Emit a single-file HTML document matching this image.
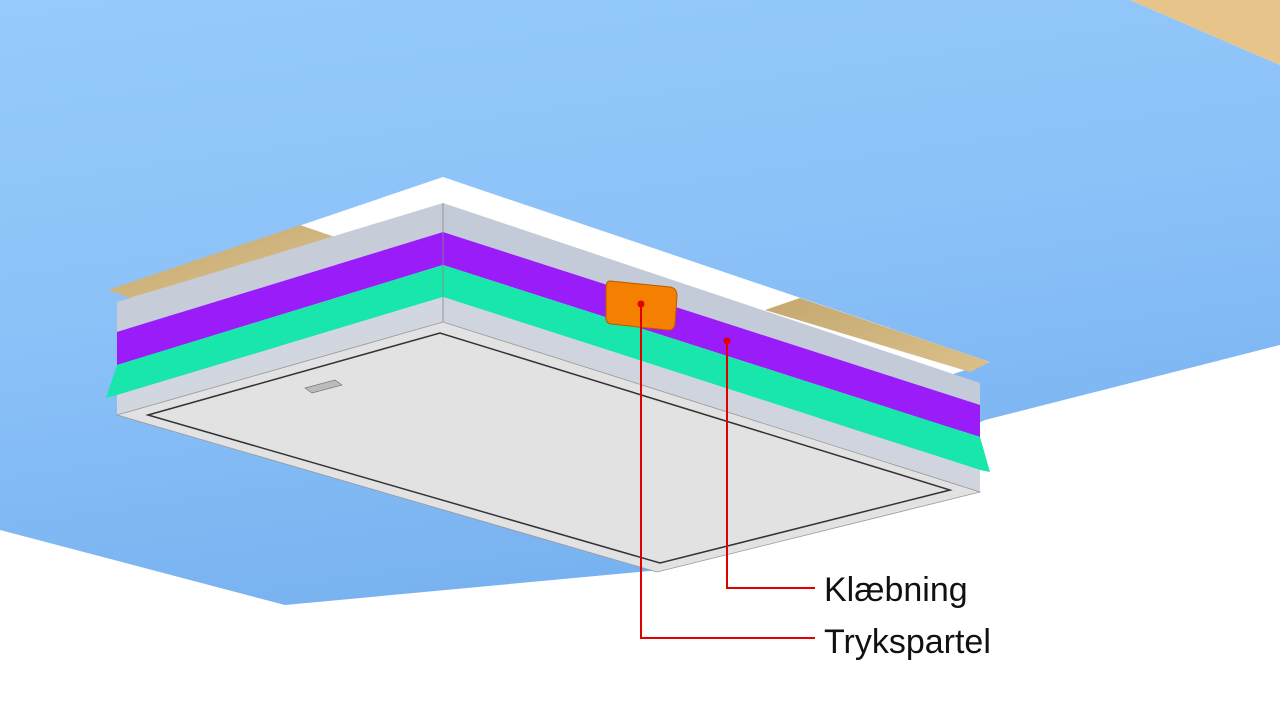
<!DOCTYPE html>
<html><head><meta charset="utf-8"><style>
html,body{margin:0;padding:0;background:#fff;}
svg{display:block}
text{font-family:"Liberation Sans",sans-serif;}
</style></head><body>
<svg width="1280" height="720" viewBox="0 0 1280 720" xmlns="http://www.w3.org/2000/svg">
<defs>
<linearGradient id="bl" x1="0" y1="0" x2="0.3" y2="1">
<stop offset="0" stop-color="#96cafc"/><stop offset="0.5" stop-color="#8cc2f8"/><stop offset="1" stop-color="#78b2f0"/>
</linearGradient>
<linearGradient id="tan" x1="0" y1="0" x2="1" y2="1">
<stop offset="0" stop-color="#c4a870"/><stop offset="1" stop-color="#dcc08a"/>
</linearGradient>
</defs>
<rect width="1280" height="720" fill="#fff"/>
<polygon points="0,0 1130,0 1280,65 1280,345 985,420 660,570 285,605 0,530" fill="url(#bl)"/>
<polygon points="1130,0 1280,0 1280,65" fill="#e6c48a"/>
<polygon points="110,290 443,177 990,362 660,470" fill="#fff"/>
<polygon points="108,290 300,225 335,237 130,298" fill="url(#tan)"/>
<polygon points="765,310 800,298 990,362 970,372" fill="url(#tan)"/>
<polygon points="117,302 443,203 443,232 117,332" fill="#c6ccd8"/>
<polygon points="443,203 980,383 980,405 443,232" fill="#c3cad8"/>
<polygon points="117,332 443,232 443,265 117,365" fill="#9a1cf8"/>
<polygon points="443,232 980,405 980,437 443,265" fill="#9a1cf8"/>
<polygon points="117,365 443,265 443,297 117,395 106,398" fill="#18e6aa"/>
<polygon points="443,265 980,437 990,472 980,470 443,297" fill="#18e6aa"/>
<polygon points="117,395 443,297 443,322 117,415" fill="#d2d6de"/>
<polygon points="443,297 980,470 980,492 443,322" fill="#cfd4de"/>
<line x1="443" y1="203" x2="443" y2="322" stroke="#888" stroke-width="0.8"/>
<polygon points="117,415 443,322 980,492 657,572" fill="#e2e2e2" stroke="#999" stroke-width="0.8"/>
<polygon points="148,415 440,333 950,490 660,563" fill="none" stroke="#333" stroke-width="1.5"/>
<polygon points="305,388 335,380 342,385 312,393" fill="#bbb" stroke="#777" stroke-width="0.7"/>
<path d="M610,281 L670,287 Q677,288 677,296 L675,324 Q674,331 667,330 L611,324 Q605,323 606,316 L606,288 Q606,281 610,281 Z" fill="#f57f00" stroke="#b85a00" stroke-width="1"/>
<g stroke="#e00000" stroke-width="2" fill="none">
<polyline points="641,304 641,638 815,638"/>
<polyline points="727,341 727,588 815,588"/>
</g>
<circle cx="641" cy="304" r="3.5" fill="#e00000"/>
<circle cx="727" cy="341" r="3.5" fill="#e00000"/>
<text x="824" y="601" font-size="34" fill="#111">Klæbning</text>
<text x="824" y="653" font-size="34" fill="#111">Trykspartel</text>
</svg>
</body></html>
